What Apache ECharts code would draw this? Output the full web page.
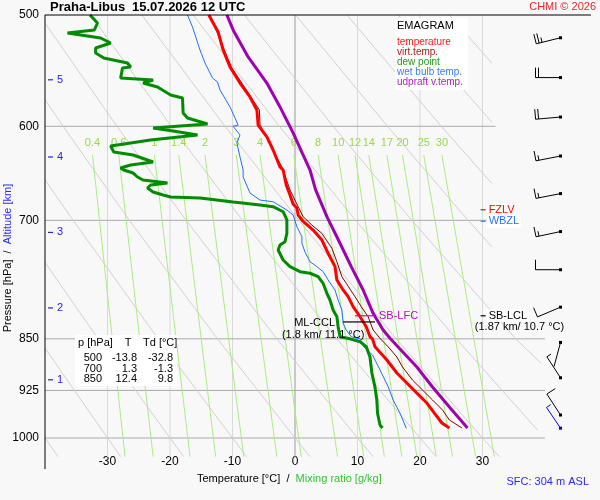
<!DOCTYPE html>
<html>
<head>
<meta charset="utf-8">
<script src="https://cdn.jsdelivr.net/npm/echarts@6/dist/echarts.min.js"></script>
<style>
  html, body { margin: 0; padding: 0; background: #f8f8f8; }
  #chart { width: 600px; height: 500px; }
</style>
</head>
<body>
<div id="chart"></div>
<script>
const tempP = [500, 514.1, 529.5, 544.4, 559, 571.9, 584.2, 598.8, 610.6, 623.8, 641.4, 644.6, 660.6, 671.5, 681.4, 686, 693.9, 701.3, 711.2, 722.9, 738.8, 755.2, 771.9, 784.6, 793.3, 806.4, 819.7, 833.3, 847.1, 850, 861.1, 880, 899, 913.8, 929, 944.3, 959.9, 975.7, 983.8];
const tempT = [-13.8, -12.3, -11.5, -10.4, -8.8, -7.2, -6.1, -5.9, -4.5, -3.5, -2.4, -1.9, -1.4, -0.8, -0.3, 0.3, 0.5, 1.3, 2.9, 4.3, 5.3, 6.4, 6.7, 7.7, 8.5, 9.3, 10.4, 11.4, 12.0, 12.4, 12.8, 14.7, 16.3, 17.9, 19.5, 21.1, 22.3, 23.5, 24.7];

const virtP = [500, 544.4, 584.2, 598.8, 641.4, 666, 684.5, 695.8, 705.4, 715, 732.8, 749.1, 767.7, 776.1, 793.3, 806.4, 819.7, 837.8, 849.3, 861.1, 875.7, 890.2, 909.4, 924.4, 939.6, 955.2, 970.9, 983.7];
const virtT = [-13.6, -10.2, -5.7, -5.6, -2.1, -0.8, 0.5, 1.3, 2.7, 4.3, 5.9, 6.7, 7.5, 8.2, 9.6, 10.6, 11.7, 12.5, 13.6, 14.9, 16.3, 17.2, 18.8, 20.4, 22.0, 23.6, 24.7, 26.7];

const dewP = [500, 506.6, 512.4, 515, 519.2, 523.5, 527.8, 532.1, 536.5, 540.9, 544.5, 545.4, 554.4, 556.2, 558.9, 562.6, 570, 572.8, 587.1, 591.9, 597.8, 601.7, 604.7, 608.6, 613.7, 619.7, 625.8, 628.9, 636.2, 639.3, 642.5, 644.6, 647.8, 652, 655.2, 658.5, 660.6, 663.9, 668.2, 671.5, 673.7, 674.8, 679.3, 682.6, 684.5, 690.2, 699.6, 715, 725, 728.9, 734.9, 747, 755.2, 761.4, 763.4, 767.7, 776.1, 788.9, 797.6, 810.8, 819.7, 833.3, 847.1, 850, 854, 861.1, 875.7, 899, 919.8, 939.6, 959.9, 978.9, 983.7];
const dewT = [-32.8, -31.6, -32.1, -36.4, -31.1, -29.5, -31.9, -31.9, -30.6, -26.8, -26.3, -27.6, -27.9, -22.7, -24.3, -22.0, -19.9, -18.0, -17.9, -17.2, -14.0, -22.7, -19.5, -15.6, -23.1, -29.5, -29.0, -25.9, -22.7, -26.3, -27.9, -27.4, -25.9, -25.2, -24.3, -20.4, -23.1, -23.6, -22.7, -21.1, -19.9, -15.2, -9.9, -5.6, -3.5, -1.9, -1.3, -1.3, -1.6, -2.4, -2.7, -1.9, -0.8, 0.8, 2.4, 3.7, 4.5, 5.1, 5.6, 6.1, 6.7, 6.9, 7.2, 8.8, 10.4, 11.4, 12.0, 12.3, 12.8, 13.1, 13.2, 13.6, 14.0];

const wetP = [500, 509.9, 529.5, 540.9, 554.4, 558, 565.4, 581.3, 591.9, 598.8, 600, 608.6, 616.6, 631, 644.6, 652, 669.4, 677.1, 679, 688.3, 693.9, 707.4, 719, 726.8, 737.4, 749.1, 755.2, 761.4, 771.9, 784.6, 797.6, 810.8, 828.6, 837.8, 847.1, 850, 861.1, 872.8, 894.5, 919.3, 939.6, 960.1, 984.2];
const wetT = [-17.2, -16.4, -15.2, -14.4, -13.2, -12.4, -12.0, -10.4, -9.6, -9.1, -9.9, -8.8, -9.3, -8.8, -8.3, -8.3, -7.2, -5.6, -3.5, -1.3, -0.3, 0.3, 1.1, 1.1, 1.6, 2.4, 3.5, 4.5, 5.3, 6.4, 6.9, 7.5, 7.7, 8.2, 9.0, 10.4, 11.0, 12.4, 13.6, 14.9, 15.7, 16.8, 17.8];

const updP = [500, 512.4, 535.6, 559, 581.3, 606.6, 644.6, 666, 695.8, 726.8, 755.2, 784.6, 815.2, 837.8, 849.3, 861.5, 890.2, 919.8, 950.5, 983.8];
const updT = [-10.9, -9.9, -7.5, -4.5, -2.4, -0.3, 2.4, 3.3, 5.1, 7.2, 9.0, 10.9, 12.5, 14.1, 15.2, 16.5, 19.5, 22.0, 24.7, 27.6];

// Viento (cada 0.5 km), el ultimo es el de superficie
const windP = [519, 554, 591, 630, 670, 713, 759, 807, 855, 906, 963, 984];
const windDir = [256, 270, 265, 259, 259, 258, 270, 247, 195, 327, 327, 326];
const windKt = [25, 20, 20, 15, 15, 15, 10, 10, 0, 5, 10, 5];

// Lineas de razon de mezcla (g/kg): T arriba (629 hPa) y abajo (1031 hPa)
const mixW = [0.4, 0.6, 1, 1.4, 2, 3, 4, 6, 8, 10, 12, 14, 17, 20, 25, 30];
const mixTopT = [-32.4, -28.2, -22.5, -18.6, -14.4, -9.4, -5.6, -0.2, 3.7, 6.9, 9.6, 11.8, 14.7, 17.2, 20.6, 23.5];
const mixBotT = [-27.2, -22.7, -16.8, -12.7, -8.2, -2.9, 1.0, 6.8, 11.0, 14.3, 17.1, 19.5, 22.6, 25.2, 28.9, 31.9];
const mixTopP = 629, mixBotP = 1031;

const adiabatasSecas = [
  [[-40, 1000], [-37.9, 1031]],
  [[-40, 863], [-30, 1000], [-27.9, 1031]],
  [[-40, 750], [-31.5, 850], [-20, 1000], [-17.8, 1031]],
  [[-40, 655], [-35.5, 700], [-21.9, 850], [-10, 1000], [-7.7, 1031]],
  [[-40, 574.5], [-37.1, 600], [-26.5, 700], [-12.4, 850], [0, 1000], [2.4, 1031]],
  [[-40, 506.6], [-28.5, 600], [-17.4, 700], [-2.9, 850], [10, 1000], [12.5, 1031]],
  [[-32.7, 500], [-19.8, 600], [-8.4, 700], [6.7, 850], [20, 1000], [22.6, 1031]],
  [[-24.5, 500], [-11.2, 600], [0.6, 700], [16.2, 850], [30, 1000], [32.7, 1031]],
  [[-16.3, 500], [-2.5, 600], [9.7, 700], [25.8, 850], [38.8, 987]],
  [[-8.1, 500], [6.1, 600], [18.7, 700], [35.3, 850], [39.4, 885]],
  [[0.1, 500], [14.8, 600], [27.7, 700], [31.5, 731]],
  [[8.3, 500], [23.4, 600], [31.5, 659]],
  [[16.5, 500], [24.6, 550], [31.5, 596]],
  [[24.7, 500], [31.5, 541]]
];

// Rejilla
const isoT = [-30, -20, -10, 0, 10, 20, 30];
const isoP = [600, 700, 850, 925, 1000];
const isoPEnd = [32.1, 31.5, 40, 40, 40];
const pLabels = [500, 600, 700, 850, 925, 1000];

// Altitud (km) y su presion
const altKm = [1, 2, 3, 4, 5];
const altP = [909, 808, 714, 631, 556];

// Tabla de valores
const tableP = [500, 700, 850];
const tableT = [-13.8, 1.3, 12.4];
const tableTd = [-32.8, -1.3, 9.8];

// Niveles marcados
const levelNames = ['FZLV', 'WBZL', 'SB-LCL'];
const levelP = [688, 701, 818.5];
const levelColors = ['#ff0000', '#2a72ff', '#000000'];

const legendNames = ['temperature', 'virt.temp.', 'dew point', 'wet bulb temp.', 'udpraft v.temp.'];
const legendColors = ['#ff1a1a', '#b01818', '#1f9a1f', '#3a7bff', '#b020c0'];

const FONT = 'Liberation Sans, Arial, sans-serif';
const chart = echarts.init(document.getElementById('chart'));

function linea(datos, color, ancho, z) {
  return {
    type: 'line', data: datos, showSymbol: false, symbol: 'none', silent: true,
    z: z, lineStyle: { color: color, width: ancho }
  };
}
function perfil(T, P, color, ancho, z) {
  return linea(T.map((t, i) => [t, P[i]]), color, ancho, z);
}

// Capa de textos sobre coordenadas del diagrama
function capaTexto(items, z) {
  return {
    type: 'custom', silent: true, z: z,
    data: items.map(it => [it.t, it.p]),
    renderItem: function (params, api) {
      const it = items[params.dataIndex];
      const c = api.coord([it.t, it.p]);
      const kids = [];
      if (it.line) {
        const c2 = api.coord([it.line, it.p]);
        kids.push({ type: 'line', shape: { x1: c[0], y1: c[1], x2: c2[0], y2: c2[1] }, style: { stroke: it.color, lineWidth: 1.2 } });
      }
      if (it.text) {
        kids.push({
          type: 'text', x: c[0] + (it.dx || 0), y: c[1] + (it.dy || 0),
          style: {
            text: it.text, fill: it.color, fontSize: it.size || 11, fontFamily: FONT,
            align: it.align || 'left', verticalAlign: 'middle',
            backgroundColor: it.bg || null, padding: it.bg ? [1, 2] : 0
          }
        });
      }
      return { type: 'group', children: kids };
    }
  };
}

// Barbas de viento
function dibujarBarba(params, api) {
  const i = params.dataIndex;
  const base = api.coord([40, windP[i]]);
  const x0 = base[0] + 15.5, y0 = base[1];
  const col = i === windP.length - 1 ? '#0000ff' : '#000000';
  const a = windDir[i] * Math.PI / 180;
  const ux = Math.sin(a), uy = -Math.cos(a);
  const bx = -uy, by = ux;
  const L = 25;
  const kids = [
    { type: 'line', shape: { x1: x0, y1: y0, x2: x0 + ux * L, y2: y0 + uy * L }, style: { stroke: col, lineWidth: 1 } },
    { type: 'rect', shape: { x: x0 - 1.5, y: y0 - 1.5, width: 3, height: 3 }, style: { fill: col } }
  ];
  let v = windKt[i], k = 0;
  while (v >= 5) {
    const len = v >= 10 ? 10 : 5;
    const d = L - k * 3;
    const sx = x0 + ux * d, sy = y0 + uy * d;
    kids.push({ type: 'line', shape: { x1: sx, y1: sy, x2: sx + bx * len, y2: sy + by * len }, style: { stroke: col, lineWidth: 1 } });
    v -= len; k++;
  }
  return { type: 'group', children: kids };
}

const series = [];

// lineas verticales e isobaras
isoT.forEach(t => series.push(linea([[t, 500], [t, 1031.6]], t === 0 ? '#9a9a9a' : '#dadada', 1, 1)));
isoP.forEach((p, i) => series.push(linea([[-40, p], [isoPEnd[i], p]], '#a9a9a9', 1, 1)));
// adiabaticas secas
adiabatasSecas.forEach(d => series.push(linea(d, '#d0d0d0', 1, 1)));
// razon de mezcla
mixW.forEach((w, i) => series.push(linea([[mixTopT[i], mixTopP], [mixBotT[i], mixBotP]], '#a8ee80', 1, 2)));
series.push(capaTexto(mixW.map((w, i) => ({ t: mixTopT[i], p: mixTopP, dy: -12, text: String(w), color: '#9ad84a', size: 11, align: 'center' })), 2));

// perfiles
series.push(perfil(wetT, wetP, '#1f6fff', 1, 4));
series.push(perfil(dewT, dewP, '#008c00', 3, 5));
series.push(perfil(virtT, virtP, '#8b0000', 1, 5));
series.push(perfil(tempT, tempP, '#ff0000', 3, 6));
series.push(perfil(updT, updP, '#a000b0', 3, 6));

// niveles y marcas
const marcas = levelNames.map((n, i) => ({ t: 29.7, p: levelP[i], line: 30.5, text: n, dx: 6, color: levelColors[i], bg: '#ffffff' }));
marcas.push({ t: 30, p: levelP[2], dx: 37, dy: 11, text: '(1.87 km/ 10.7 °C)', color: '#000', align: 'center' });
marcas.push({ t: 9.6, p: 818.5, line: 12.8, text: '', color: '#b010c0' });
marcas.push({ t: 12.8, p: 818.5, dx: 4, text: 'SB-LFC', color: '#b010c0' });
marcas.push({ t: 7.7, p: 826.8, line: 12.8, text: '', color: '#000' });
marcas.push({ t: 7.7, p: 826.8, dx: -8, dy: 1, text: 'ML-CCL', color: '#000', align: 'right' });
marcas.push({ t: 7.7, p: 826.8, dx: -20, dy: 13, text: '(1.8 km/ 11.1 °C)', color: '#000', align: 'center' });
series.push(capaTexto(marcas, 8));

// altitudes en km
series.push({
  type: 'custom', silent: true, z: 8,
  data: altP.map(p => [-40, p]),
  renderItem: function (params, api) {
    const c = api.coord([-40, altP[params.dataIndex]]);
    return {
      type: 'group', children: [
        { type: 'line', shape: { x1: c[0] + 3, y1: c[1], x2: c[0] + 8, y2: c[1] }, style: { stroke: '#2222ee', lineWidth: 1.2 } },
        { type: 'text', x: c[0] + 12, y: c[1], style: { text: String(altKm[params.dataIndex]), fill: '#2222ee', fontSize: 11, fontFamily: FONT, verticalAlign: 'middle' } }
      ]
    };
  }
});

// barbas
series.push({
  type: 'custom', silent: true, z: 8, clip: false,
  data: windP.map((p, i) => [40, p]),
  renderItem: dibujarBarba
});

// elementos graficos: titulos, leyenda, tabla
const graficos = [
  { type: 'line', shape: { x1: 45, y1: 15, x2: 591, y2: 15 }, style: { stroke: '#000', lineWidth: 1 }, z: 60 },
  { type: 'line', shape: { x1: 45, y1: 15, x2: 45, y2: 469 }, style: { stroke: '#000', lineWidth: 1 }, z: 60 },
  { type: 'text', x: 50, y: 7.5, style: { text: 'Praha-Libus', fill: '#000', fontSize: 13, fontWeight: 'bold', fontFamily: FONT, verticalAlign: 'middle' }, z: 60 },
  { type: 'text', x: 132, y: 7.5, style: { text: '15.07.2026 12 UTC', fill: '#000', fontSize: 13, fontWeight: 'bold', fontFamily: FONT, verticalAlign: 'middle' }, z: 60 },
  { type: 'text', x: 596, y: 7, style: { text: 'CHMI © 2026', fill: '#e8262a', fontSize: 11, fontFamily: FONT, align: 'right', verticalAlign: 'middle' }, z: 60 },
  { type: 'text', x: 589, y: 482, style: { text: 'SFC: 304 m ASL', fill: '#2a2aff', fontSize: 11, fontFamily: FONT, align: 'right', verticalAlign: 'middle' }, z: 60 },
  {
    type: 'text', x: 197, y: 479, z: 60,
    style: {
      text: '{a|Temperature [°C]  /  }{b|Mixing ratio [g/kg]}', fontSize: 11, fontFamily: FONT, verticalAlign: 'middle',
      rich: { a: { fill: '#000', fontSize: 11, fontFamily: FONT }, b: { fill: '#33c433', fontSize: 11, fontFamily: FONT } }
    }
  },
  {
    type: 'text', x: 7.5, y: 258, rotation: Math.PI / 2, z: 60,
    style: {
      text: '{a|Pressure [hPa]  /  }{b|Altitude [km]}', fontSize: 11, fontFamily: FONT, align: 'center', verticalAlign: 'middle',
      rich: { a: { fill: '#000', fontSize: 11, fontFamily: FONT }, b: { fill: '#2a2aff', fontSize: 11, fontFamily: FONT } }
    }
  },
  // leyenda
  { type: 'rect', shape: { x: 395, y: 18, width: 73, height: 72 }, style: { fill: '#ffffff' }, z: 60 },
  { type: 'text', x: 397, y: 26, style: { text: 'EMAGRAM', fill: '#000', fontSize: 11, fontFamily: FONT, verticalAlign: 'middle' }, z: 61 },
  // tabla
  { type: 'rect', shape: { x: 75, y: 335, width: 102, height: 51 }, style: { fill: '#ffffff' }, z: 60 },
  { type: 'text', x: 78, y: 343, style: { text: 'p [hPa]', fill: '#000', fontSize: 11, fontFamily: FONT, verticalAlign: 'middle' }, z: 61 },
  { type: 'text', x: 128, y: 343, style: { text: 'T', fill: '#000', fontSize: 11, fontFamily: FONT, align: 'center', verticalAlign: 'middle' }, z: 61 },
  { type: 'text', x: 143, y: 343, style: { text: 'Td [°C]', fill: '#000', fontSize: 11, fontFamily: FONT, verticalAlign: 'middle' }, z: 61 }
];
legendNames.forEach((n, i) => graficos.push({
  type: 'text', x: 397, y: 42 + i * 10, z: 61,
  style: { text: n, fill: legendColors[i], fontSize: 10, fontFamily: FONT, verticalAlign: 'middle' }
}));
tableP.forEach((p, i) => {
  const y = 358 + i * 10.5;
  [[String(p), 102], [tableT[i].toFixed(1), 137], [tableTd[i].toFixed(1), 173]].forEach(([txt, x]) => graficos.push({
    type: 'text', x: x, y: y, z: 61,
    style: { text: txt, fill: '#000', fontSize: 11, fontFamily: FONT, align: 'right', verticalAlign: 'middle' }
  }));
});

const option = {
  backgroundColor: '#f8f8f8',
  animation: false,
  textStyle: { fontFamily: FONT },
  grid: { left: 45, top: 15, width: 500, height: 442 },
  xAxis: {
    type: 'value', min: -40, max: 40, interval: 10,
    axisLine: { show: false }, axisTick: { show: false }, splitLine: { show: false },
    axisLabel: { margin: -1, fontSize: 12, color: '#000', formatter: v => (Math.abs(v) === 40 ? '' : String(v)) }
  },
  yAxis: {
    type: 'log', inverse: true, min: 500, max: 1031.6,
    axisLine: { show: false, onZero: false },
    axisTick: { show: false }, splitLine: { show: false }, minorSplitLine: { show: false },
    axisLabel: { customValues: pLabels, margin: 6, fontSize: 12, color: '#000', formatter: v => String(Math.round(v)) }
  },
  graphic: { elements: graficos },
  series: series
};

chart.setOption(option);
</script>
</body>
</html>
